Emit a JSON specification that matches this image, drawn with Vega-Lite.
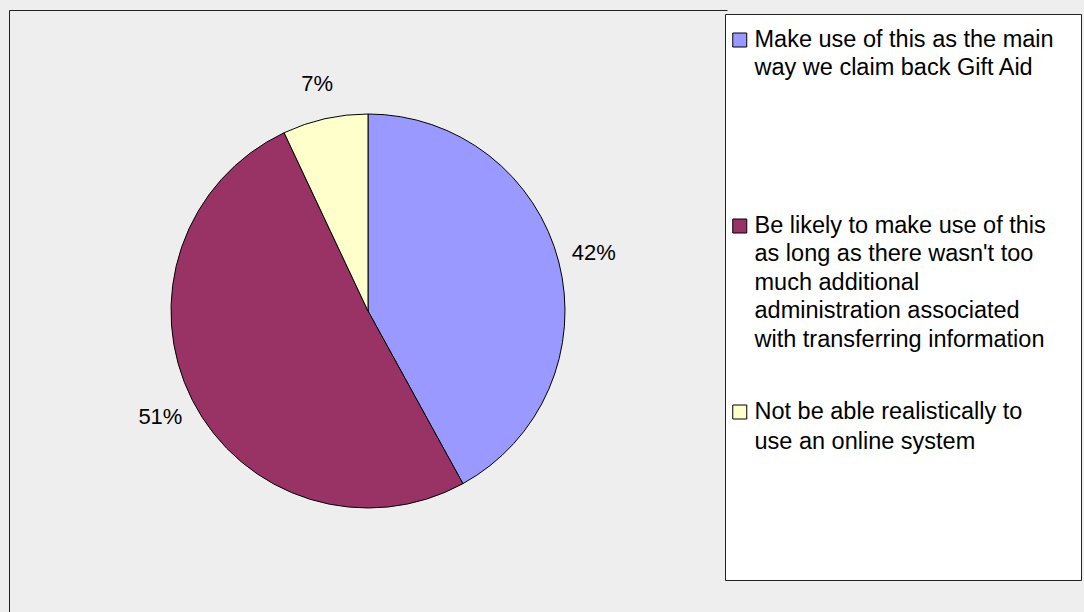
{
  "$schema": "https://vega.github.io/schema/vega-lite/v6.json",
  "width": 718,
  "height": 602,
  "autosize": "none",
  "padding": {"left": 9, "top": 10, "right": 357, "bottom": 0},
  "background": "#eeeeee",
  "view": {"fill": "#eeeeee", "stroke": "#222222", "strokeWidth": 1, "strokeDash": [718, 1320, 602, 0]},
  "config": {
    "font": "Liberation Sans"
  },
  "data": {
    "values": [
      {"response": "Make use of this as the main way we claim back Gift Aid", "share": 0.42},
      {"response": "Be likely to make use of this as long as there wasn't too much additional administration associated with transferring information", "share": 0.51},
      {"response": "Not be able realistically to use an online system", "share": 0.07}
    ]
  },
  "transform": [{"window": [{"op": "row_number", "as": "idx"}]}],
  "encoding": {
    "theta": {"field": "share", "type": "quantitative", "stack": true},
    "order": {"field": "idx", "type": "quantitative"}
  },
  "layer": [
    {
      "mark": {"type": "arc", "outerRadius": 197, "stroke": "#000000", "strokeWidth": 1},
      "encoding": {
        "color": {
          "field": "response",
          "type": "nominal",
          "scale": {
            "domain": [
              "Make use of this as the main way we claim back Gift Aid",
              "Be likely to make use of this as long as there wasn't too much additional administration associated with transferring information",
              "Not be able realistically to use an online system"
            ],
            "range": ["#9999FF", "#993366", "#FFFFCC"]
          },
          "legend": {
            "title": null,
            "orient": "none",
            "direction": "vertical",
            "legendX": 716,
            "legendY": 4,
            "padding": 7,
            "fillColor": "#ffffff",
            "strokeColor": "#222222",
            "symbolType": "square",
            "symbolSize": 196,
            "symbolStrokeColor": "#000000",
            "symbolStrokeWidth": 1,
            "symbolOpacity": 1,
            "symbolOffset": -4,
            "labelFontSize": 23.5,
            "labelColor": "#000000",
            "labelOffset": 3,
            "labelLimit": 500,
            "labelBaseline": "alphabetic",
            "rowPadding": 13,
            "labelExpr": "indexof(datum.label, 'Make') == 0 ? ['Make use of this as the main\u00a0\u00a0\u00a0\u200b', 'way we claim back Gift Aid', '', '', '', ''] : indexof(datum.label, 'Be') == 0 ? ['Be likely to make use of this', \"as long as there wasn't too\", 'much additional', 'administration associated', 'with transferring information', ''] : ['Not be able realistically to', 'use an online system', '', '', '', '']",
            "encode": {
              "symbols": {"update": {"y": {"value": 19}}},
              "labels": {"update": {"y": {"value": 25.7}, "lineHeight": {"signal": "indexof(datum.value, 'Not') == 0 ? 29.9 : 28.5"}}}
            }
          }
        }
      }
    },
    {
      "mark": {"type": "text", "radius": 233, "fontSize": 22, "color": "#000000"},
      "encoding": {
        "text": {"field": "share", "type": "quantitative", "format": ".0%"}
      }
    }
  ]
}
